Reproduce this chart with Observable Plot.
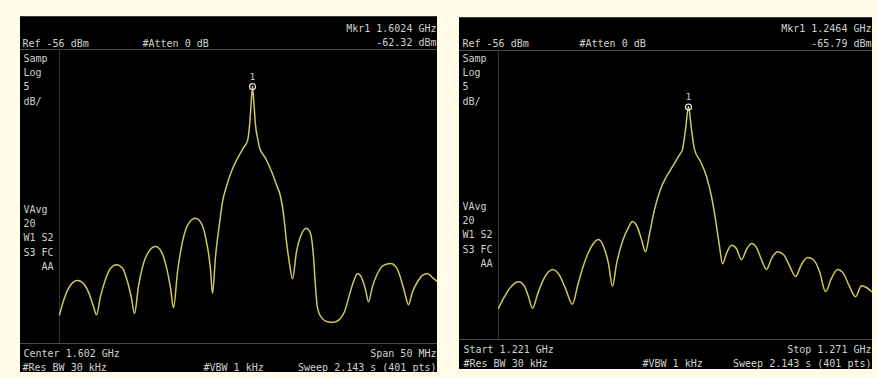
<!DOCTYPE html>
<html>
<head>
<meta charset="utf-8">
<script src="https://cdn.jsdelivr.net/npm/d3@7"></script>
<script src="https://cdn.jsdelivr.net/npm/@observablehq/plot@0.6"></script>
<style>
  html, body { margin: 0; padding: 0; background: #fffbe6; }
  body { width: 877px; height: 378px; position: relative; overflow: hidden; }
  .screen { position: absolute; background: #000; overflow: hidden; border-top: 1px solid #3a3a3a; box-sizing: border-box; }
  .screen svg { display: block; max-width: none !important; }
</style>
</head>
<body>
<div id="left" class="screen" style="left:20px;top:16px;width:417px;height:356px"></div>
<div id="right" class="screen" style="left:459px;top:17px;width:413px;height:352px"></div>
<script>
// Trace 1: centre 1602 MHz, span 50 MHz (frequency in MHz, level in dBm)
const leftFreq = [
  1577.0, 1577.66, 1578.45, 1579.37, 1580.29, 1580.95, 1581.47, 1581.87,
  1582.39, 1583.05, 1583.71, 1584.5, 1585.29, 1585.95, 1586.47, 1586.87,
  1587.39, 1588.05, 1588.84, 1589.63, 1590.42, 1591.08, 1591.61, 1592.0,
  1592.53, 1593.18, 1593.97, 1594.89, 1595.68, 1596.34, 1596.87, 1597.13,
  1597.53, 1598.05, 1598.45, 1598.97, 1599.63, 1600.42, 1601.21, 1601.74,
  1602.0, 1602.2, 1602.4, 1602.6, 1602.8, 1603.1,
  1603.32, 1604.11, 1604.89, 1605.55, 1606.08, 1606.47, 1606.87, 1607.26,
  1607.66, 1608.18, 1608.71, 1609.5, 1610.03, 1610.42, 1610.68, 1610.95,
  1611.47, 1612.26, 1613.05, 1613.84, 1614.5, 1615.16, 1615.68, 1616.21,
  1616.74, 1617.26, 1617.66, 1618.18, 1618.84, 1619.63, 1620.55, 1621.34,
  1621.87, 1622.39, 1622.92, 1623.45, 1624.11, 1624.76, 1625.42, 1626.08, 1626.74
];
const leftLevel = [
  -101.1, -98.2, -96.1, -95.3, -96.0, -97.7, -99.7, -101.1,
  -98.0, -95.1, -93.2, -92.6, -93.2, -95.5, -98.3, -100.9,
  -96.3, -92.4, -90.2, -89.5, -90.4, -93.1, -96.6, -99.9,
  -93.8, -88.7, -85.6, -84.7, -85.6, -88.7, -93.4, -97.5,
  -91.2, -85.6, -81.9, -79.3, -76.7, -74.5, -72.7, -71.5,
  -69.0, -65.5, -62.32, -65.5, -69.0, -71.3,
  -72.7, -74.5, -76.7, -79.0, -81.0, -83.9, -88.7, -92.4,
  -95.0, -90.4, -87.8, -86.4, -87.3, -91.2, -96.3, -100.0,
  -101.6, -102.3, -102.4, -101.9, -100.6, -97.7, -95.5, -94.1,
  -94.8, -96.8, -98.9, -96.3, -94.1, -92.7, -92.4, -93.1,
  -94.8, -97.2, -99.4, -97.2, -95.5, -94.4, -94.1, -94.8, -95.5
];

// Trace 2: start 1221 MHz, stop 1271 MHz
const rightFreq = [
  1221.0, 1221.67, 1222.47, 1223.67, 1224.48, 1225.01, 1225.55, 1226.21,
  1227.02, 1228.22, 1229.16, 1229.96, 1230.89, 1231.56, 1232.23, 1232.9,
  1233.57, 1234.37, 1235.04, 1235.71, 1236.24, 1236.78, 1237.58, 1238.38,
  1238.91, 1239.58, 1240.12, 1240.65, 1241.19, 1241.86, 1242.66, 1243.46,
  1244.26, 1245.06, 1245.6, 1246.0, 1246.4, 1246.8, 1247.2, 1248.0,
  1248.81, 1249.48, 1250.01, 1250.55, 1250.95, 1251.48, 1252.15, 1252.82,
  1253.49, 1254.16, 1254.82, 1255.49, 1256.16, 1256.83, 1257.5, 1258.3,
  1259.1, 1259.9, 1260.71, 1261.51, 1262.31, 1263.11, 1263.91, 1264.72,
  1265.52, 1266.32, 1267.12, 1267.92, 1268.73, 1269.53, 1270.2, 1270.87
];
const rightLevel = [
  -100.6, -98.9, -97.2, -96.0, -96.8, -98.6, -100.6, -98.2,
  -95.6, -93.9, -94.9, -97.2, -99.9, -96.8, -93.7, -91.3,
  -89.6, -88.7, -89.9, -92.9, -96.8, -92.9, -89.0, -86.6,
  -85.6, -86.6, -88.7, -90.8, -87.7, -83.5, -80.0, -77.8,
  -76.1, -74.3, -73.1, -69.7, -65.79, -69.7, -73.1, -75.2,
  -77.8, -81.3, -85.2, -89.9, -92.9, -91.1, -89.7, -90.3,
  -92.2, -90.4, -89.4, -90.1, -92.2, -93.9, -92.0, -90.8,
  -91.3, -93.2, -95.1, -93.0, -91.8, -92.2, -94.2, -97.7,
  -95.4, -93.9, -94.6, -96.8, -98.6, -96.7, -97.0, -97.7
];

// Instrument settings
const refLevel = -56;       // dBm, top graticule line
const dbPerDiv = 5;
const divisions = 10;
const leftSpan = [1577, 1627];   // MHz
const rightSpan = [1221, 1271];  // MHz
const leftMarker = [{f: 1602.4, dB: -62.32}];
const rightMarker = [{f: 1246.4, dB: -65.79}];
const sideTop = ["Samp", "Log", String(dbPerDiv), "dB/"];
const sideMid = ["VAvg", "20", "W1 S2", "S3 FC", "   AA"];

const textColor = "#d0d0d0";
const traceColor = "#cdc85a";

function screen(el, cfg) {
  const {freq, level, span, marker, ml, mr, mt, mb, width, height, labels} = cfg;
  const trace = freq.map((f, i) => ({f, dB: level[i]}));
  const bottom = refLevel - dbPerDiv * divisions;
  // annotation text placed relative to the screen's top-left corner
  const label = (t, x, y, anchor = "start") => Plot.text([t], {
    text: d => d,
    frameAnchor: "top-left",
    dx: x - ml, dy: y - mt,
    textAnchor: anchor, lineAnchor: "middle",
    fill: textColor, fontSize: 10, fontFamily: "DejaVu Sans Mono"
  });
  const chart = Plot.plot({
    width, height,
    marginLeft: ml, marginRight: mr, marginTop: mt, marginBottom: mb,
    style: {background: "#000", maxWidth: "none", overflow: "visible"},
    x: {domain: span, axis: null},
    y: {domain: [bottom, refLevel], axis: null},
    marks: [
      Plot.ruleY([refLevel, bottom], {stroke: "#4a4a4a", insetLeft: -ml, insetRight: -mr}),
      Plot.ruleX([span[0]], {stroke: "#333"}),
      Plot.line(trace, {x: "f", y: "dB", curve: "monotone-x", stroke: traceColor, strokeWidth: 1.5, strokeLinejoin: "round"}),
      Plot.dot(marker, {x: "f", y: "dB", r: 3, stroke: "#e6e6e6", strokeWidth: 1.2, fill: "none"}),
      Plot.dot(marker, {x: "f", y: "dB", r: 0.8, fill: "#e6e6e6"}),
      Plot.text(marker, {x: "f", y: "dB", text: () => "1", dy: -10, fill: textColor, fontSize: 9, fontFamily: "DejaVu Sans Mono"}),
      ...labels.map(([t, x, y, a]) => label(t, x, y, a))
    ]
  });
  document.getElementById(el).appendChild(chart);
}

screen("left", {
  freq: leftFreq, level: leftLevel, span: leftSpan, marker: leftMarker,
  width: 440, height: 356, ml: 39, mr: 21, mt: 32, mb: 30,
  labels: [
    [`Ref ${refLevel} dBm`, 2, 26],
    ["#Atten 0 dB", 122, 26],
    ["Mkr1 1.6024 GHz", 416, 11, "end"],
    [`${leftMarker[0].dB.toFixed(2)} dBm`, 416, 25, "end"],
    ...sideTop.map((t, i) => [t, 3, 41 + i * 14.3]),
    ...sideMid.map((t, i) => [t, 3, 192 + i * 14.3]),
    ["Center 1.602 GHz", 3, 336],
    ["#Res BW 30 kHz", 2, 350],
    ["#VBW 1 kHz", 183, 350],
    ["Span 50 MHz", 416, 336, "end"],
    ["Sweep 2.143 s (401 pts)", 416, 350, "end"]
  ]
});

screen("right", {
  freq: rightFreq, level: rightLevel, span: rightSpan, marker: rightMarker,
  width: 430, height: 352, ml: 39, mr: 17, mt: 32, mb: 31,
  labels: [
    [`Ref ${refLevel} dBm`, 3, 25],
    ["#Atten 0 dB", 120, 25],
    ["Mkr1 1.2464 GHz", 412, 10, "end"],
    [`${rightMarker[0].dB.toFixed(2)} dBm`, 412, 25, "end"],
    ...sideTop.map((t, i) => [t, 3, 40 + i * 14.3]),
    ...sideMid.map((t, i) => [t, 3, 188 + i * 14.3]),
    ["Start 1.221 GHz", 4, 331],
    ["#Res BW 30 kHz", 4, 345],
    ["#VBW 1 kHz", 183, 345],
    ["Stop 1.271 GHz", 412, 331, "end"],
    ["Sweep 2.143 s (401 pts)", 412, 345, "end"]
  ]
});
</script>
</body>
</html>
